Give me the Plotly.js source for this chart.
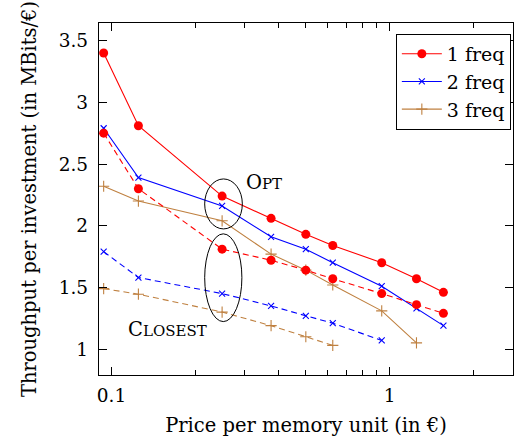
<!DOCTYPE html>
<html>
<head>
<meta charset="utf-8">
<script src="https://cdn.plot.ly/plotly-3.0.1.min.js"></script>
<style>html,body{margin:0;padding:0;background:#fff;}#chart{width:515px;height:443px;}</style>
</head>
<body>
<div id="chart"></div>
<script>
// Price per memory unit (in €)
var xPrice = [0.09375, 0.125, 0.25, 0.375, 0.5, 0.625, 0.9375, 1.25, 1.5625];
// Throughput per investment, "Opt" (solid) and "Closest" (dashed)
var freq1Opt     = [3.40, 2.81, 2.24, 2.06, 1.93, 1.84, 1.70, 1.57, 1.46];
var freq1Closest = [2.75, 2.30, 1.81, 1.72, 1.64, 1.57, 1.45, 1.36, 1.29];
var freq2Opt     = [2.79, 2.39, 2.16, 1.91, 1.81, 1.70, 1.51, 1.33, 1.19];
var freq2Closest = [1.79, 1.58, 1.45, 1.35, 1.27, 1.21, 1.07];
var freq3Opt     = [2.32, 2.20, 2.04, 1.77, 1.64, 1.52, 1.31, 1.05];
var freq3Closest = [1.49, 1.445, 1.30, 1.19, 1.10, 1.03];
var seriesNames = ['1 freq', '2 freq', '3 freq'];
var xTickVals = [0.1, 1];
var xTickText = ['0.1', '1'];
var xMinorVals = [0.2, 0.3, 0.4, 0.5, 0.6, 0.7, 0.8, 0.9, 2, 3];
var yTickVals = [1, 1.5, 2, 2.5, 3, 3.5];
var yTickText = ['1', '1.5', '2', '2.5', '3', '3.5'];

var RED = '#ff0000', BLUE = '#0000ff', BROWN = '#bf8040';
var DASH = '6px,4px';
var FONT = 'DejaVu Serif';

function tr(y, name, color, symbol, msize, dashed, show, rank) {
  return {
    x: xPrice.slice(0, y.length), y: y, type: 'scatter', mode: 'lines+markers',
    name: name, showlegend: show, legendrank: rank,
    line: {color: color, width: 1.1, dash: dashed ? DASH : 'solid'},
    marker: {color: color, symbol: symbol, size: msize,
             line: {color: color, width: symbol === 'circle' ? 0 : 1.1}}
  };
}

var data = [
  tr(freq3Closest, seriesNames[2], BROWN, 'cross-thin', 8, true, false, 3),
  tr(freq3Opt, seriesNames[2], BROWN, 'cross-thin', 8, false, true, 3),
  tr(freq2Closest, seriesNames[1], BLUE, 'x-thin', 6, true, false, 2),
  tr(freq2Opt, seriesNames[1], BLUE, 'x-thin', 6, false, true, 2),
  tr(freq1Closest, seriesNames[0], RED, 'circle', 9, true, false, 1),
  tr(freq1Opt, seriesNames[0], RED, 'circle', 9, false, true, 1)
];

var layout = {
  width: 515, height: 443,
  margin: {l: 99, r: 2, t: 23, b: 68},
  paper_bgcolor: '#fff', plot_bgcolor: '#fff',
  font: {family: FONT, size: 18.5, color: '#000'},
  showlegend: true,
  legend: {x: 0.717, y: 0.969, xanchor: 'left', yanchor: 'top',
           bgcolor: '#fff', bordercolor: '#000', borderwidth: 1, itemwidth: 40,
           font: {family: FONT, size: 19}},
  xaxis: {
    type: 'log', range: [Math.log10(0.0902), Math.log10(2.78)],
    tickmode: 'array', tickvals: xTickVals, ticktext: xTickText,
    ticks: 'inside', ticklen: 8, tickwidth: 1, tickcolor: '#000',
    minor: {tickvals: xMinorVals, ticks: 'inside', ticklen: 5, tickwidth: 1, tickcolor: '#000', showgrid: false},
    showgrid: false, zeroline: false, showline: true, linecolor: '#000', linewidth: 1.2,
    mirror: 'allticks', ticklabelstandoff: 4,
    title: {text: 'Price per memory unit (in €)', font: {family: FONT, size: 19.5}, standoff: 13}
  },
  yaxis: {
    range: [0.79, 3.643],
    tickmode: 'array', tickvals: yTickVals, ticktext: yTickText,
    ticks: 'inside', ticklen: 8, tickwidth: 1, tickcolor: '#000',
    showgrid: false, zeroline: false, showline: true, linecolor: '#000', linewidth: 1.2,
    mirror: 'allticks', ticklabelstandoff: 6,
    title: {text: 'Throughput per investment (in MBits/€)', font: {family: FONT, size: 19.5}, standoff: 16}
  },
  shapes: [
    {type: 'circle', xref: 'x', yref: 'y', x0: 0.2164, x1: 0.2956, y0: 1.974, y1: 2.379,
     line: {color: '#000', width: 1}},
    {type: 'circle', xref: 'x', yref: 'y', x0: 0.2164, x1: 0.2945, y0: 1.223, y1: 1.934,
     line: {color: '#000', width: 1}}
  ],
  annotations: [
    {xref: 'x', yref: 'y', x: Math.log10(0.3), y: 2.35, xanchor: 'left', yanchor: 'middle', showarrow: false,
     text: 'O<span style="font-size:15px">PT</span>', font: {family: FONT, size: 19.5}},
    {xref: 'x', yref: 'y', x: Math.log10(0.113), y: 1.16, xanchor: 'left', yanchor: 'middle', showarrow: false,
     text: 'C<span style="font-size:15px">LOSEST</span>', font: {family: FONT, size: 19.5}}
  ]
};

Plotly.newPlot('chart', data, layout, {staticPlot: true, displayModeBar: false});
</script>
</body>
</html>
